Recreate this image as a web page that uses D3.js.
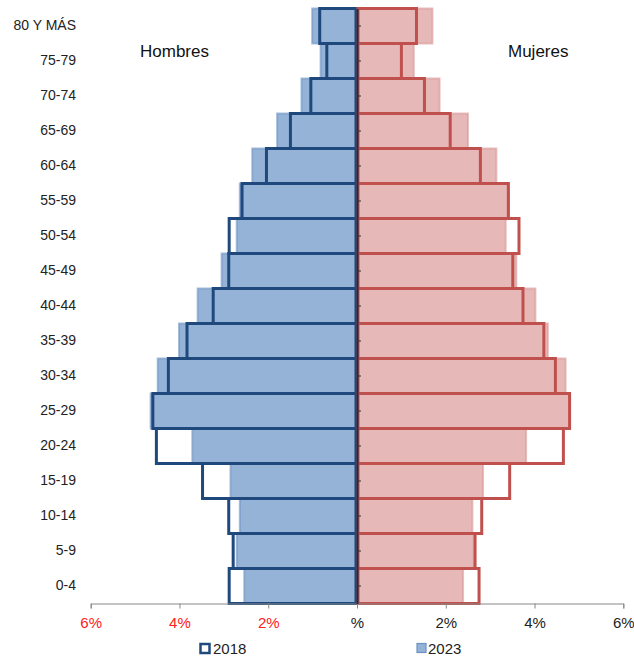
<!DOCTYPE html>
<html>
<head>
<meta charset="utf-8">
<script src="https://cdn.jsdelivr.net/npm/d3@7"></script>
<style>
  body { margin: 0; background: #fff; }
  text { font-family: "Liberation Sans", Arial, sans-serif; }
</style>
</head>
<body>
<div id="container"></div>
<script>
/* CONSTANTS AND GLOBALS */
const width = 634;
const height = 660;

// age groups, bottom to top
const ages = ["0-4", "5-9", "10-14", "15-19", "20-24", "25-29", "30-34", "35-39", "40-44",
    "45-49", "50-54", "55-59", "60-64", "65-69", "70-74", "75-79", "80 Y MÁS"];

// % of population
const hombres2018 = [2.88, 2.79, 2.89, 3.48, 4.52, 4.60, 4.25, 3.83, 3.24, 2.89, 2.88, 2.59, 2.04, 1.50, 1.04, 0.68, 0.84];
const hombres2023 = [2.54, 2.71, 2.64, 2.85, 3.71, 4.65, 4.49, 4.01, 3.59, 3.05, 2.71, 2.64, 2.36, 1.80, 1.25, 0.82, 1.01];
const mujeres2018 = [2.75, 2.66, 2.81, 3.44, 4.65, 4.79, 4.47, 4.21, 3.74, 3.51, 3.65, 3.41, 2.78, 2.10, 1.52, 1.00, 1.34];
const mujeres2023 = [2.39, 2.63, 2.60, 2.84, 3.81, 4.78, 4.70, 4.30, 4.02, 3.59, 3.35, 3.42, 3.14, 2.50, 1.86, 1.28, 1.70];

const xTicks = [-6, -4, -2, 0, 2, 4, 6];
const years = ["2018", "2023"];

const blueLine = "#1f497d", blueFill = "#95b3d7";
const redLine = "#c0504d", redFill = "#e6b9b8";

const svg = d3.select("#container")
    .append("svg")
    .attr("width", width)
    .attr("height", height)

/* SCALES */
const xScale = d3.scaleLinear()
    .domain([-6, 6])
    .range([90.7, 623.3])

const yScale = d3.scaleBand()
    .domain(ages.slice().reverse())
    .range([8.5, 603.5])
    .padding(0)

const x0 = xScale(0)

const rows = ages.map((a, i) => ({
    age: a, h18: hombres2018[i], h23: hombres2023[i], m18: mujeres2018[i], m23: mujeres2023[i]
}))

// 2023 filled bars (behind)
svg.selectAll("rect.h23")
    .data(rows)
    .join("rect")
    .attr("class", "h23")
    .attr("x", d => xScale(-d.h23))
    .attr("y", d => yScale(d.age))
    .attr("width", d => x0 - xScale(-d.h23))
    .attr("height", yScale.bandwidth())
    .attr("fill", blueFill)
    .attr("stroke", "#6d92c3")
    .attr("stroke-opacity", 0.6)
    .attr("stroke-width", 2)

svg.selectAll("rect.m23")
    .data(rows)
    .join("rect")
    .attr("class", "m23")
    .attr("x", x0)
    .attr("y", d => yScale(d.age))
    .attr("width", d => xScale(d.m23) - x0)
    .attr("height", yScale.bandwidth())
    .attr("fill", redFill)
    .attr("stroke", "#d79896")
    .attr("stroke-opacity", 0.6)
    .attr("stroke-width", 2)

// 2018 outlines (on top)
svg.selectAll("rect.h18")
    .data(rows)
    .join("rect")
    .attr("class", "h18")
    .attr("x", d => xScale(-d.h18))
    .attr("y", d => yScale(d.age))
    .attr("width", d => x0 - 1 - xScale(-d.h18))
    .attr("height", yScale.bandwidth())
    .attr("fill", "none")
    .attr("stroke", blueLine)
    .attr("stroke-width", 3)

svg.selectAll("rect.m18")
    .data(rows)
    .join("rect")
    .attr("class", "m18")
    .attr("x", x0 + 1)
    .attr("y", d => yScale(d.age))
    .attr("width", d => xScale(d.m18) - x0 - 1)
    .attr("height", yScale.bandwidth())
    .attr("fill", "none")
    .attr("stroke", redLine)
    .attr("stroke-width", 3)

/* AXES */
// x axis
const xAxis = svg.append("g")
    .attr("transform", `translate(0, ${yScale.range()[1]})`)
    .call(d3.axisBottom(xScale)
        .tickValues(xTicks)
        .tickSize(5)
        .tickPadding(9)
        .tickFormat(d => d === 0 ? "%" : Math.abs(d) + "%"))
xAxis.select(".domain").attr("stroke", "#888")
xAxis.selectAll(".tick line").attr("stroke", "#888")
xAxis.selectAll(".tick text")
    .style("font-size", "15px")
    .attr("fill", d => d < 0 ? "#ff2020" : "#222")

// center axis with small ticks
const yAxis = svg.append("g")
    .attr("transform", `translate(${x0}, 0)`)
    .call(d3.axisRight(yScale).tickSize(4).tickSizeOuter(0).tickFormat(""))
yAxis.select(".domain").attr("stroke", "#17304f").attr("stroke-width", 2)
yAxis.selectAll(".tick line").attr("stroke", "#333")

// category labels
const labels = svg.append("g")
    .attr("transform", "translate(76, 0)")
    .call(d3.axisLeft(yScale).tickSize(0).tickPadding(0))
labels.select(".domain").remove()
labels.selectAll(".tick text")
    .style("font-size", "14px")
    .attr("fill", "#222")

// titles
svg.append("text")
    .attr("x", 140)
    .attr("y", 57)
    .text("Hombres")
    .style("font-size", "17px")
    .attr("fill", "#111")

svg.append("text")
    .attr("x", 508)
    .attr("y", 57)
    .text("Mujeres")
    .style("font-size", "17px")
    .attr("fill", "#111")

/* LEGEND */
const legendX = [200, 417]
const legend = svg.selectAll("g.legend")
    .data(years)
    .join("g")
    .attr("class", "legend")
    .attr("transform", (d, i) => `translate(${legendX[i]}, 643)`)

legend.append("rect")
    .attr("x", d => d === "2018" ? 0.5 : 0)
    .attr("y", d => d === "2018" ? 1 : 0.5)
    .attr("width", d => d === "2018" ? 9 : 9)
    .attr("height", d => d === "2018" ? 9 : 9)
    .attr("fill", d => d === "2018" ? "#fff" : blueFill)
    .attr("stroke", d => d === "2018" ? blueLine : "#6d92c3")
    .attr("stroke-width", d => d === "2018" ? 2.5 : 1.2)

legend.append("text")
    .attr("x", d => d === "2018" ? 13 : 11)
    .attr("y", 10.5)
    .text(d => d)
    .style("font-size", "15px")
    .attr("fill", "#222")
</script>
</body>
</html>
